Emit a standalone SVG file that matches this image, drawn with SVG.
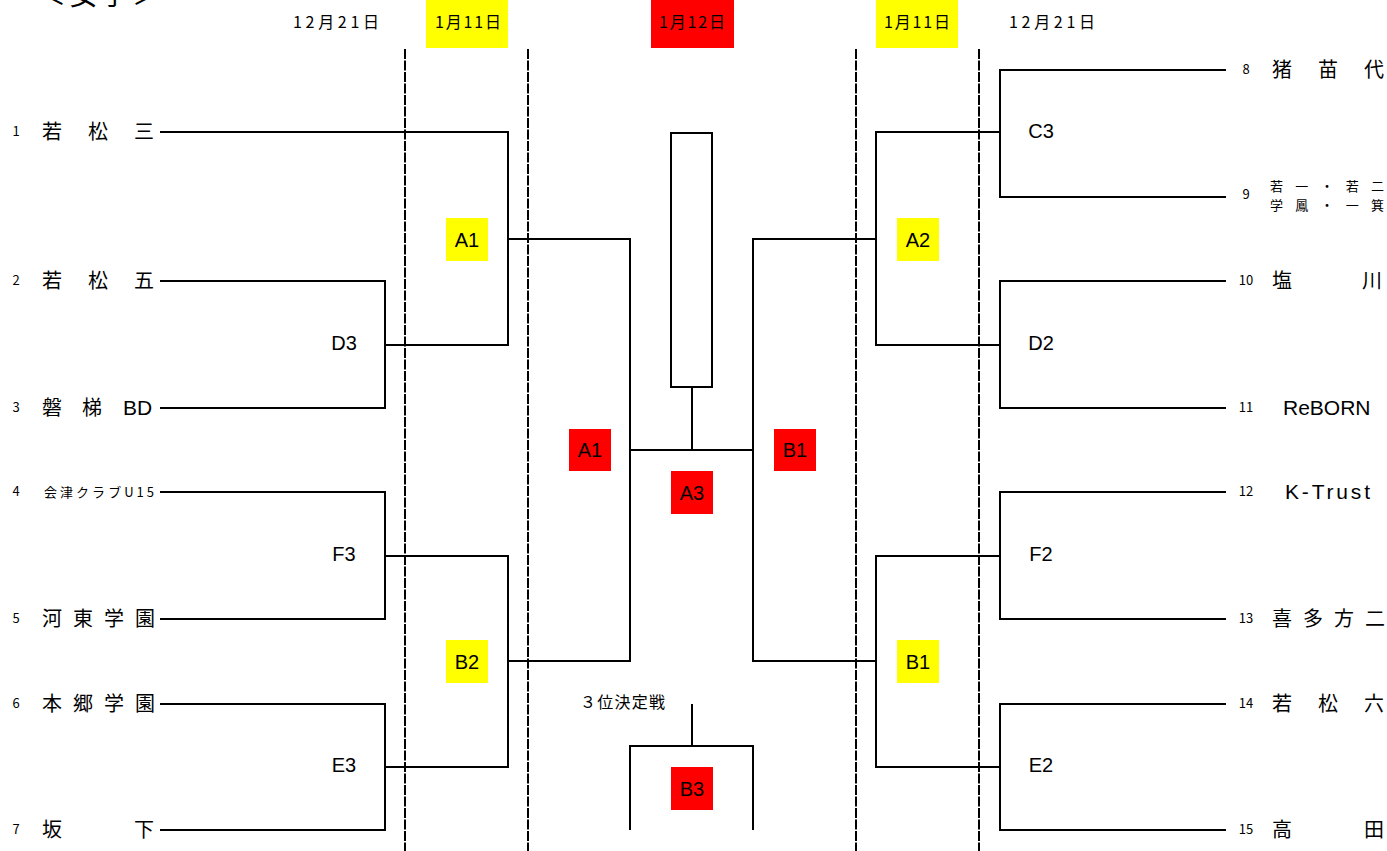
<svg xmlns="http://www.w3.org/2000/svg" width="1387" height="851" viewBox="0 0 1387 851">
<style>
text { font-family: "Noto Sans CJK JP", "Noto Sans", sans-serif; fill: #000; }
.nm { font-size: 20px; }
.sm { font-size: 13px; }
.no { font-size: 13px; text-anchor: middle; }
.dt { font-size: 16px; }
.lb { font-family: "Liberation Sans", Arial, sans-serif; font-size: 20px; text-anchor: middle; }
.en { font-family: "Liberation Sans", Arial, sans-serif; font-size: 21px; }
.ln { fill: none; stroke: #000; stroke-width: 2; }
.dash { fill: none; stroke: #000; stroke-width: 2; stroke-dasharray: 10 1.5; }
.yb { fill: #ffff00; }
.rb { fill: #ff0000; }
</style>
<rect width="1387" height="851" fill="#fff"/>

<g id="title">
<text x="38" y="5" style="font-size:28px" textLength="122" lengthAdjust="spacing">＜女子＞</text>
</g>

<g id="headers">
<text class="dt" x="293" y="28" textLength="86" lengthAdjust="spacing">12月21日</text>
<rect class="yb" x="426" y="0" width="82" height="48"/>
<text class="dt" x="435" y="28" textLength="66" lengthAdjust="spacing">1月11日</text>
<rect class="rb" x="651" y="0" width="83" height="48"/>
<text class="dt" x="659" y="28" textLength="66" lengthAdjust="spacing">1月12日</text>
<rect class="yb" x="876" y="0" width="82" height="48"/>
<text class="dt" x="884" y="28" textLength="66" lengthAdjust="spacing">1月11日</text>
<text class="dt" x="1009" y="28" textLength="86" lengthAdjust="spacing">12月21日</text>
</g>

<g id="dividers">
<line class="dash" x1="405" y1="49" x2="405" y2="851"/>
<line class="dash" x1="528" y1="49" x2="528" y2="851"/>
<line class="dash" x1="856" y1="49" x2="856" y2="851"/>
<line class="dash" x1="979" y1="49" x2="979" y2="851"/>
</g>

<g id="connectors">
<path class="ln" d="M160,132 H508 V345 H385"/>
<path class="ln" d="M160,281 H385 V408 H160"/>
<path class="ln" d="M508,239 H630 V661 H508"/>
<path class="ln" d="M160,492 H385 V619 H160"/>
<path class="ln" d="M385,556 H508 V767 H385"/>
<path class="ln" d="M160,704 H385 V830 H160"/>
<path class="ln" d="M630,450 H753"/>
<path class="ln" d="M1226,70 H1000 V197 H1226"/>
<path class="ln" d="M1000,132 H876 V345 H1000"/>
<path class="ln" d="M1226,281 H1000 V408 H1226"/>
<path class="ln" d="M876,239 H753 V661 H876"/>
<path class="ln" d="M1226,492 H1000 V619 H1226"/>
<path class="ln" d="M1000,556 H876 V767 H1000"/>
<path class="ln" d="M1226,704 H1000 V830 H1226"/>
<rect class="ln" x="671" y="133" width="41" height="254"/>
<path class="ln" d="M692,387 V450"/>
<path class="ln" d="M692,704 V746"/>
<path class="ln" d="M630,830 V746 H753 V830"/>
</g>

<g id="team1"><text class="no" x="16" y="136">1</text><text class="nm" x="42 88 134" y="139">若松三</text></g>
<g id="team2"><text class="no" x="16" y="285">2</text><text class="nm" x="42 88 134" y="288">若松五</text></g>
<g id="team3"><text class="no" x="16" y="412">3</text><text class="nm" x="42 82" y="415">磐梯</text><text class="en" x="123" y="415">BD</text></g>
<g id="team4"><text class="no" x="16" y="496">4</text><text class="sm" x="44" y="497" textLength="110" lengthAdjust="spacing">会津クラブU15</text></g>
<g id="team5"><text class="no" x="16" y="623">5</text><text class="nm" x="42" y="626" textLength="113" lengthAdjust="spacing">河東学園</text></g>
<g id="team6"><text class="no" x="16" y="708">6</text><text class="nm" x="42" y="711" textLength="113" lengthAdjust="spacing">本郷学園</text></g>
<g id="team7"><text class="no" x="16" y="834">7</text><text class="nm" x="42 134" y="837">坂下</text></g>

<g id="team8"><text class="no" x="1246" y="74">8</text><text class="nm" x="1272 1318 1364" y="77">猪苗代</text></g>
<g id="team9"><text class="no" x="1246" y="199">9</text><text class="sm" x="1270" y="191" textLength="114" lengthAdjust="spacing">若一・若二</text><text class="sm" x="1270" y="210" textLength="114" lengthAdjust="spacing">学鳳・一箕</text></g>
<g id="team10"><text class="no" x="1246" y="285">10</text><text class="nm" x="1272 1362" y="288">塩川</text></g>
<g id="team11"><text class="no" x="1246" y="412">11</text><text class="en" x="1283" y="415">ReBORN</text></g>
<g id="team12"><text class="no" x="1246" y="496">12</text><text class="en" x="1285" y="499" textLength="85" lengthAdjust="spacing">K-Trust</text></g>
<g id="team13"><text class="no" x="1246" y="623">13</text><text class="nm" x="1272" y="626" textLength="113" lengthAdjust="spacing">喜多方二</text></g>
<g id="team14"><text class="no" x="1246" y="708">14</text><text class="nm" x="1272 1318 1364" y="711">若松六</text></g>
<g id="team15"><text class="no" x="1246" y="834">15</text><text class="nm" x="1272 1364" y="837">高田</text></g>

<g id="match-D3"><text class="lb" x="344" y="350">D3</text></g>
<g id="match-F3"><text class="lb" x="344" y="561">F3</text></g>
<g id="match-E3"><text class="lb" x="344" y="772">E3</text></g>
<g id="match-C3"><text class="lb" x="1041" y="138">C3</text></g>
<g id="match-D2"><text class="lb" x="1041" y="350">D2</text></g>
<g id="match-F2"><text class="lb" x="1041" y="561">F2</text></g>
<g id="match-E2"><text class="lb" x="1041" y="772">E2</text></g>

<g id="match-A1-y"><rect class="yb" x="446" y="218" width="42" height="43"/><text class="lb" x="467" y="247">A1</text></g>
<g id="match-B2-y"><rect class="yb" x="446" y="640" width="42" height="43"/><text class="lb" x="467" y="669">B2</text></g>
<g id="match-A2-y"><rect class="yb" x="897" y="218" width="42" height="43"/><text class="lb" x="918" y="247">A2</text></g>
<g id="match-B1-y"><rect class="yb" x="897" y="640" width="42" height="43"/><text class="lb" x="918" y="669">B1</text></g>

<g id="match-A1-r"><rect class="rb" x="569" y="429" width="42" height="42"/><text class="lb" x="590" y="457">A1</text></g>
<g id="match-B1-r"><rect class="rb" x="774" y="429" width="42" height="42"/><text class="lb" x="795" y="457">B1</text></g>
<g id="match-A3"><rect class="rb" x="671" y="471" width="42" height="43"/><text class="lb" x="692" y="500">A3</text></g>
<g id="match-B3"><rect class="rb" x="671" y="767" width="42" height="43"/><text class="lb" x="692" y="796">B3</text></g>

<g id="third-place"><text class="dt" x="580" y="708" textLength="85" lengthAdjust="spacing">３位決定戦</text></g>
</svg>
